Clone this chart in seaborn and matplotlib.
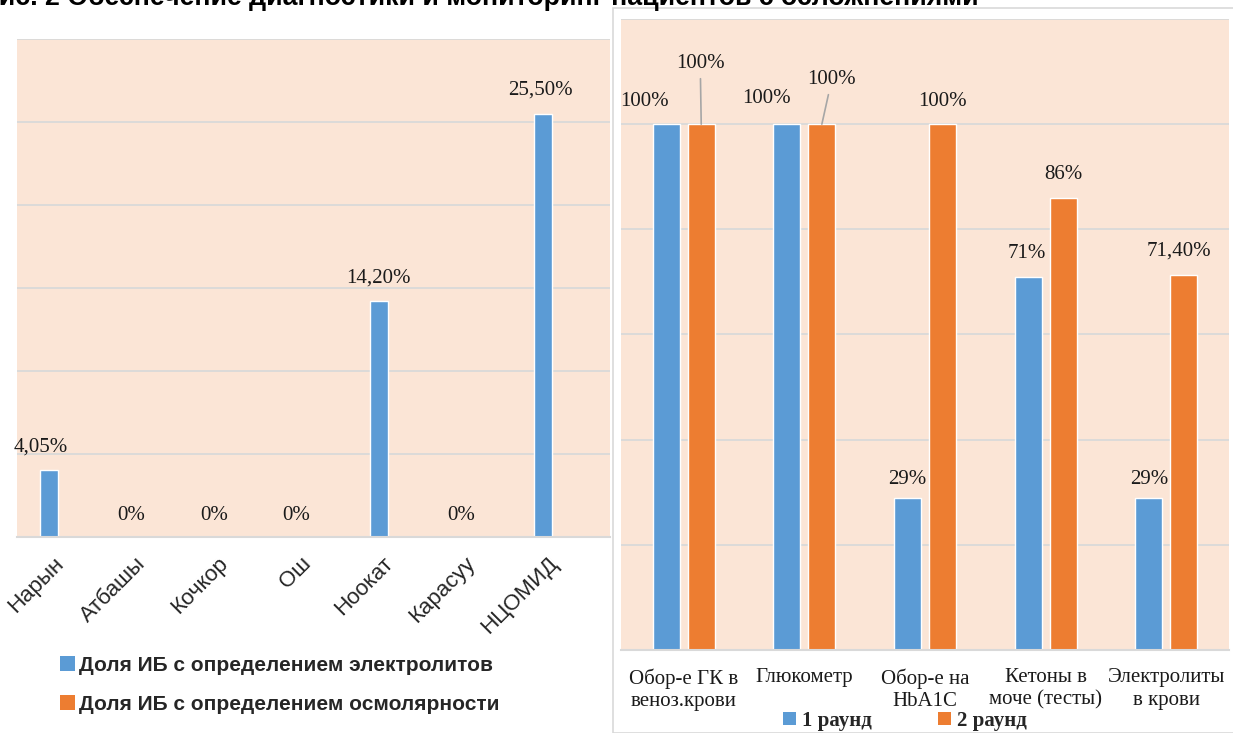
import matplotlib
matplotlib.use("Agg")
import matplotlib.pyplot as plt
import seaborn as sns
import pandas as pd
from matplotlib.patches import Patch, Rectangle

# ---------------- data ----------------
regions = ["Нарын", "Атбашы", "Кочкор", "Ош", "Ноокат", "Карасуу", "НЦОМИД"]
electrolytes = [4.05, 0, 0, 0, 14.2, 0, 25.5]
osmolarity = [0, 0, 0, 0, 0, 0, 0]
electrolyte_labels = ["4,05%", "0%", "0%", "0%", "14,20%", "0%", "25,50%"]
left_series = ["Доля ИБ с определением электролитов",
               "Доля ИБ с определением осмолярности"]

items = ["Обор-е ГК в\nвеноз.крови", "Глюкометр", "Обор-е на\nHbA1C",
         "Кетоны в\nмоче (тесты)", "Электролиты\nв крови"]
round1 = [100, 100, 29, 71, 29]
round2 = [100, 100, 100, 86, 71.4]
round1_labels = ["100%", "100%", "29%", "71%", "29%"]
round2_labels = ["100%", "100%", "100%", "86%", "71,40%"]
right_series = ["1 раунд", "2 раунд"]

title = "Рис. 2 Обеспечение диагностики и мониторинг пациентов с осложнениями"

# ---------------- style ----------------
BLUE = "#5B9BD5"
ORANGE = "#ED7D31"
BG = "#FBE5D6"
GRID = "#D9D9D9"

sns.set_theme(style="white")
plt.rcParams["font.family"] = ["Liberation Sans", "DejaVu Sans"]

W, H = 1233, 733
fig = plt.figure(figsize=(W / 100, H / 100), dpi=100)


def rect(x0, y0, x1, y1):
    return [x0 / W, 1 - y1 / H, (x1 - x0) / W, (y1 - y0) / H]


def style_axes(ax, ymax, step):
    ax.set_facecolor(BG)
    ax.set_ylim(0, ymax)
    ax.set_yticks(range(0, ymax + 1, step))
    ax.yaxis.grid(True, color=GRID, linewidth=1.3)
    ax.set_axisbelow(True)
    ax.set_yticklabels([])
    ax.tick_params(axis="both", length=0)
    for s in ["top", "right", "left"]:
        ax.spines[s].set_visible(False)
    ax.spines["bottom"].set_color(GRID)
    ax.spines["bottom"].set_linewidth(1.5)
    ax.set_xlabel("")
    ax.set_ylabel("")


# ---------------- left panel ----------------
axL = fig.add_axes(rect(17, 39, 610, 537))
dfL = pd.DataFrame({
    "cat": regions * 2,
    "series": [left_series[0]] * len(regions) + [left_series[1]] * len(regions),
    "value": electrolytes + osmolarity,
})
sns.barplot(data=dfL, x="cat", y="value", hue="series", order=regions,
            hue_order=left_series, palette=[BLUE, ORANGE], saturation=1,
            width=0.56, gap=0.22, legend=False, ax=axL)
style_axes(axL, 30, 5)
axL.set_xlim(-0.53, 6.67)
axL.set_xticks(range(len(regions)))
axL.set_xticklabels(regions, rotation=45, ha="right", va="center",
                    rotation_mode="anchor", fontsize=16,
                    family="Liberation Sans")
axL.tick_params(axis="x", pad=17)

left_offsets = [(-8, 23), (0, 22), (0, 22), (0, 22), (0, 23), (0, 22), (-3, 24)]
for p, lab, off in zip(axL.containers[0], electrolyte_labels, left_offsets):
    axL.annotate(lab, (p.get_x() + p.get_width() / 2, p.get_height()),
                 xytext=off, textcoords="offset pixels", ha="center",
                 va="center", fontsize=15, family="Liberation Serif",
                 color="#1a1a1a")

handlesL = [Patch(facecolor=BLUE, edgecolor="none"),
            Patch(facecolor=ORANGE, edgecolor="none")]
fig.legend(handlesL, left_series, loc="upper left",
           bbox_to_anchor=(60 / W, 1 - 656 / H), frameon=False,
           prop={"family": "Liberation Sans", "weight": "bold", "size": 15},
           handlelength=0.7, handleheight=0.7, handletextpad=0.2,
           labelspacing=0.95, borderaxespad=0, borderpad=0)

# ---------------- right panel ----------------
fig.patches.append(Rectangle((613 / W, 0), (W - 613 + 5) / W, 1 - 8 / H,
                             transform=fig.transFigure, facecolor="none",
                             edgecolor=GRID, linewidth=1.2))
axR = fig.add_axes(rect(621, 19, 1229, 650))
dfR = pd.DataFrame({
    "cat": items * 2,
    "series": [right_series[0]] * len(items) + [right_series[1]] * len(items),
    "value": round1 + round2,
})
sns.barplot(data=dfR, x="cat", y="value", hue="series", order=items,
            hue_order=right_series, palette=[BLUE, ORANGE], saturation=1,
            width=0.58, gap=0.23, legend=False, ax=axR)
style_axes(axR, 120, 20)
axR.set_xlim(-0.52, 4.52)
axR.set_xticks(range(len(items)))
axR.set_xticklabels(items, fontsize=15, family="Liberation Serif",
                    linespacing=1.25, color="#1a1a1a")
axR.tick_params(axis="x", pad=13)

r1_offsets = [(-22, 23), (-20, 26), (0, 18), (-1, 23), (0, 18)]
r2_offsets = [(-1, 61), (10, 45), (0, 23), (0, 23), (-5, 24)]
leader = [True, True, False, False, False]
for cont, labs, offs in [(axR.containers[0], round1_labels, r1_offsets),
                         (axR.containers[1], round2_labels, r2_offsets)]:
    for i, (p, lab, off) in enumerate(zip(cont, labs, offs)):
        kw = {}
        if cont is axR.containers[1] and leader[i]:
            kw["arrowprops"] = dict(arrowstyle="-", color="#A6A6A6", lw=1.2,
                                    shrinkA=2, shrinkB=0)
        axR.annotate(lab, (p.get_x() + p.get_width() / 2, p.get_height()),
                     xytext=off, textcoords="offset pixels", ha="center",
                     va="center", fontsize=15, family="Liberation Serif",
                     color="#1a1a1a", **kw)

handlesR = [Patch(facecolor=BLUE, edgecolor="none"),
            Patch(facecolor=ORANGE, edgecolor="none")]
fig.legend(handlesR, right_series, loc="center left",
           bbox_to_anchor=(783 / W, 1 - 721 / H), ncol=2, frameon=False,
           prop={"family": "Liberation Serif", "weight": "bold", "size": 15},
           handlelength=0.6, handleheight=0.6, handletextpad=0.3,
           columnspacing=3.2, borderaxespad=0, borderpad=0)

# ---------------- title (cut off at the top edge, as in the source) -------
fig.text(-19 / W, 1 - 5 / H, title, ha="left", va="baseline", fontsize=19.3,
         fontweight="bold", family="Liberation Sans", color="black")

fig.savefig("out.png", dpi=100, facecolor="white")
